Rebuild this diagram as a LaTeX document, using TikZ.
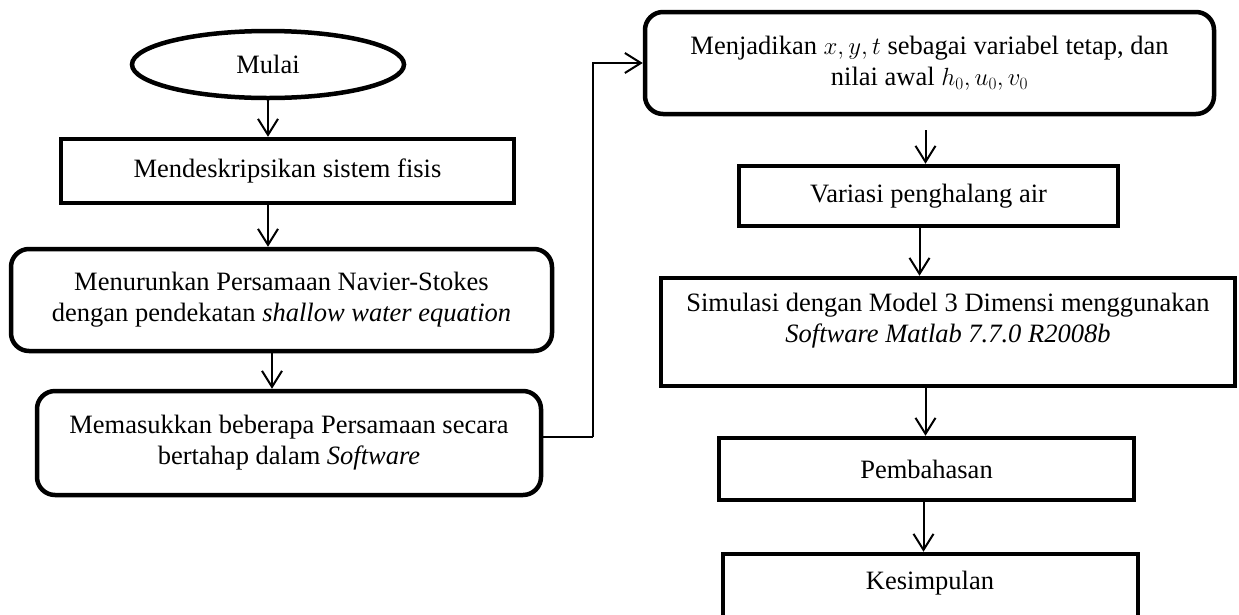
\documentclass[tikz,border=0pt]{standalone}
\usepackage{fontspec}
\setmainfont{Liberation Serif}
\usetikzlibrary{arrows.meta,shapes.geometric}
\tikzset{
  txt/.style={font=\fontsize{26.5}{31}\selectfont, align=center, inner sep=0pt},
  sqbox/.style={draw, line width=4.5pt, rectangle, txt},
  rdbox/.style={draw, line width=4.5pt, rectangle, rounded corners=18pt, txt},
  oval/.style={draw, line width=4.5pt, ellipse, txt},
  arr/.style={line width=2pt, -{Straight Barb[length=16pt,width=20pt]}},
  conn/.style={line width=2pt}
}
\begin{document}
\begin{tikzpicture}[x=1pt,y=-1pt]
\useasboundingbox (0,0) rectangle (1239,614);
\clip (0,0) rectangle (1239,614);
% left column
\node[oval, minimum width=272pt, minimum height=67pt] (mulai) at (268,64.5) {Mulai};
\node[sqbox, minimum width=453pt, minimum height=64pt] (desk) at (287.5,171) {Mendeskripsikan sistem fisis};
\node[rdbox, minimum width=541pt, minimum height=102pt] (menu) at (281.5,300)
  {Menurunkan Persamaan Navier-Stokes\\dengan pendekatan \textit{shallow water equation}};
\node[rdbox, minimum width=504pt, minimum height=104pt] (memas) at (289,443)
  {Memasukkan beberapa Persamaan secara\\bertahap dalam \textit{Software}};
% right column
\node[rdbox, minimum width=569pt, minimum height=102pt] (menj) at (929.5,63)
  {Menjadikan $x, y, t$ sebagai variabel tetap, dan\\nilai awal $h_0, u_0, v_0$};
\node[sqbox, minimum width=379pt, minimum height=60pt] (var) at (928.5,196) {Variasi penghalang air};
\node[sqbox, minimum width=574pt, minimum height=108pt] (sim) at (948,332) {};
\node[txt] (simtext) at (948,321) {Simulasi dengan Model 3 Dimensi menggunakan\\\textit{Software Matlab 7.7.0 R2008b}};
\node[sqbox, minimum width=415pt, minimum height=62pt] (pem) at (926.5,469) {Pembahasan};
\node[sqbox, minimum width=415pt, minimum height=80pt] (kes) at (930.5,594) {};
\node[txt] (kestext) at (930,583) {Kesimpulan};
% connectors
\draw[arr] (mulai.south) -- (mulai.south |- desk.north);
\draw[arr] (mulai.south |- desk.south) -- (mulai.south |- menu.north);
\draw[arr] ([xshift=4pt]mulai.south |- menu.south) -- ([xshift=4pt]mulai.south |- memas.north);
\coordinate (bend) at (593,437);
\draw[conn] (memas.east |- bend) -- (bend);
\draw[arr] (bend) |- (menj.west);
\draw[arr, shorten <=14pt] ([xshift=-4pt]menj.south) -- ([xshift=-4pt]menj.south |- var.north);
\draw[arr] ([xshift=-10pt]menj.south |- var.south) -- ([xshift=-10pt]menj.south |- sim.north);
\draw[arr] ([xshift=-4pt]menj.south |- sim.south) -- ([xshift=-4pt]menj.south |- pem.north);
\draw[arr] ([xshift=-6pt]menj.south |- pem.south) -- ([xshift=-6pt]menj.south |- kes.north);
\end{tikzpicture}
\end{document}
